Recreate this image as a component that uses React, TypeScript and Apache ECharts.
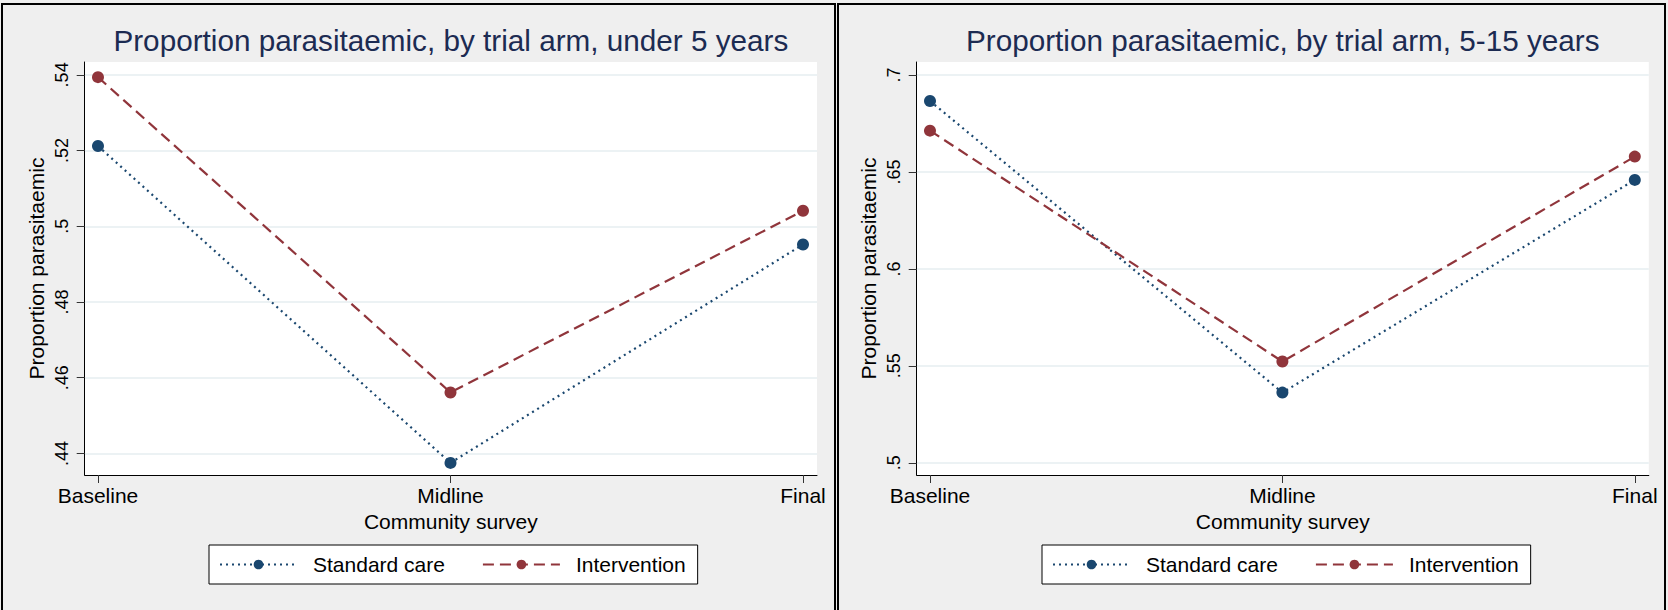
import React, { useEffect, useRef } from "react";
import * as echarts from "echarts";

const surveys = ["Baseline", "Midline", "Final"];
const seriesNames = ["Standard care", "Intervention"];

// Under 5 years
const under5Standard = [0.5212, 0.4375, 0.4952];
const under5Intervention = [0.5394, 0.4561, 0.5041];
const under5Ticks = [0.44, 0.46, 0.48, 0.5, 0.52, 0.54];

// 5-15 years
const older5Standard = [0.6866, 0.5362, 0.6459];
const older5Intervention = [0.6713, 0.5522, 0.6579];
const older5Ticks = [0.5, 0.55, 0.6, 0.65, 0.7];

const titles = [
  "Proportion parasitaemic, by trial arm, under 5 years",
  "Proportion parasitaemic, by trial arm, 5-15 years",
];

const FONT = "'Liberation Sans', Arial, sans-serif";
const BLUE = "#1a476f";
const RED = "#90353b";
const TITLE_COLOR = "#1c2b52";
const GRID_COLOR = "#e6eef1";

const xIdx = surveys.map((_, i) => i);

function toPoints(vals: number[]) {
  return vals.map((v, i) => [xIdx[i], v]);
}

function fmtY(v: number) {
  return String(+v.toFixed(4)).replace(/^0\./, ".");
}

export default function App() {
  const ref = useRef<HTMLDivElement>(null);

  useEffect(() => {
    if (!ref.current) return;
    const chart = echarts.init(ref.current, undefined, { renderer: "svg" });

    const grids = [
      { left: 84.7, top: 62, width: 732.3, height: 413 },
      { left: 916.7, top: 62, width: 732.1, height: 413 },
    ];
    const yRanges = [
      { min: 0.4343, max: 0.5434, ticks: under5Ticks },
      { min: 0.4937, max: 0.7067, ticks: older5Ticks },
    ];

    const xAxes = grids.map((_, gi) => ({
      type: "value",
      gridIndex: gi,
      min: -0.0377,
      max: 2.0397,
      axisLine: { show: true, onZero: false, lineStyle: { color: "#000", width: 1 } },
      axisTick: {
        show: true,
        length: 8,
        customValues: xIdx,
        lineStyle: { color: "#333", width: 1 },
      },
      axisLabel: {
        customValues: xIdx,
        formatter: (v: number) => surveys[Math.round(v)] ?? "",
        fontSize: 21,
        fontFamily: FONT,
        color: "#000",
        margin: 10,
      },
      splitLine: { show: false },
      name: "Community survey",
      nameLocation: "middle",
      nameGap: 32,
      nameTextStyle: { fontSize: 21, fontFamily: FONT, color: "#000" },
    }));

    const yAxes = yRanges.map((r, gi) => ({
      type: "value",
      gridIndex: gi,
      min: r.min,
      max: r.max,
      axisLine: { show: true, onZero: false, lineStyle: { color: "#000", width: 1 } },
      axisTick: {
        show: true,
        length: 8,
        customValues: r.ticks,
        lineStyle: { color: "#333", width: 1 },
      },
      axisLabel: {
        customValues: r.ticks,
        formatter: (v: number) => fmtY(v),
        rotate: 90,
        fontSize: 18,
        fontFamily: FONT,
        color: "#000",
        margin: 14,
      },
      splitLine: { show: true, lineStyle: { color: GRID_COLOR, width: 1.5 } },
      name: "Proportion parasitaemic",
      nameLocation: "middle",
      nameGap: 38,
      nameTextStyle: { fontSize: 21, fontFamily: FONT, color: "#000" },
    }));

    const mkSeries = (name: string, vals: number[], gi: number) => {
      const isStd = name === seriesNames[0];
      const color = isStd ? BLUE : RED;
      return {
        type: "line",
        name,
        xAxisIndex: gi,
        yAxisIndex: gi,
        data: toPoints(vals),
        symbol: "circle",
        symbolSize: 12,
        itemStyle: { color },
        lineStyle: {
          color,
          width: 2.2,
          type: isStd ? [2, 4] : [11, 6],
        },
      };
    };

    const series = [
      mkSeries(seriesNames[0], under5Standard, 0),
      mkSeries(seriesNames[1], under5Intervention, 0),
      mkSeries(seriesNames[0], older5Standard, 1),
      mkSeries(seriesNames[1], older5Intervention, 1),
    ];

    const centers = grids.map((g) => g.left + g.width / 2);

    const legendLefts = [209, 1042];

    chart.setOption({
      animation: false,
      backgroundColor: "#efefef",
      title: titles.map((t, i) => ({
        text: t,
        left: centers[i],
        top: 25,
        padding: 0,
        textAlign: "center",
        textStyle: {
          fontSize: 29.7,
          fontWeight: "normal",
          fontFamily: FONT,
          color: TITLE_COLOR,
        },
      })),
      grid: grids.map((g) => ({
        ...g,
        show: true,
        backgroundColor: "#fff",
        borderWidth: 0,
        containLabel: false,
      })),
      xAxis: xAxes,
      yAxis: yAxes,
      legend: legendLefts.map((l) => ({
        data: seriesNames,
        left: l,
        top: 545,
        orient: "horizontal",
        backgroundColor: "#fff",
        borderColor: "#000",
        borderWidth: 1,
        borderRadius: 0,
        padding: [9, 12, 9, 10],
        itemWidth: 77,
        itemHeight: 12,
        itemGap: 37,
        selectedMode: false,
        textStyle: {
          fontSize: 21,
          fontFamily: FONT,
          color: "#000",
          padding: [0, 0, 0, 11],
        },
      })),
      graphic: [
        {
          type: "rect",
          silent: true,
          z: 100,
          shape: { x: 2, y: 4, width: 833, height: 640 },
          style: { fill: "none", stroke: "#000", lineWidth: 2 },
        },
        {
          type: "rect",
          silent: true,
          z: 100,
          shape: { x: 838, y: 4, width: 827, height: 640 },
          style: { fill: "none", stroke: "#000", lineWidth: 2 },
        },
      ],
      series,
    });

    return () => chart.dispose();
  }, []);

  return (
    <div
      ref={ref}
      style={{ position: "absolute", left: 0, top: 0, width: 1668, height: 610 }}
    />
  );
}
